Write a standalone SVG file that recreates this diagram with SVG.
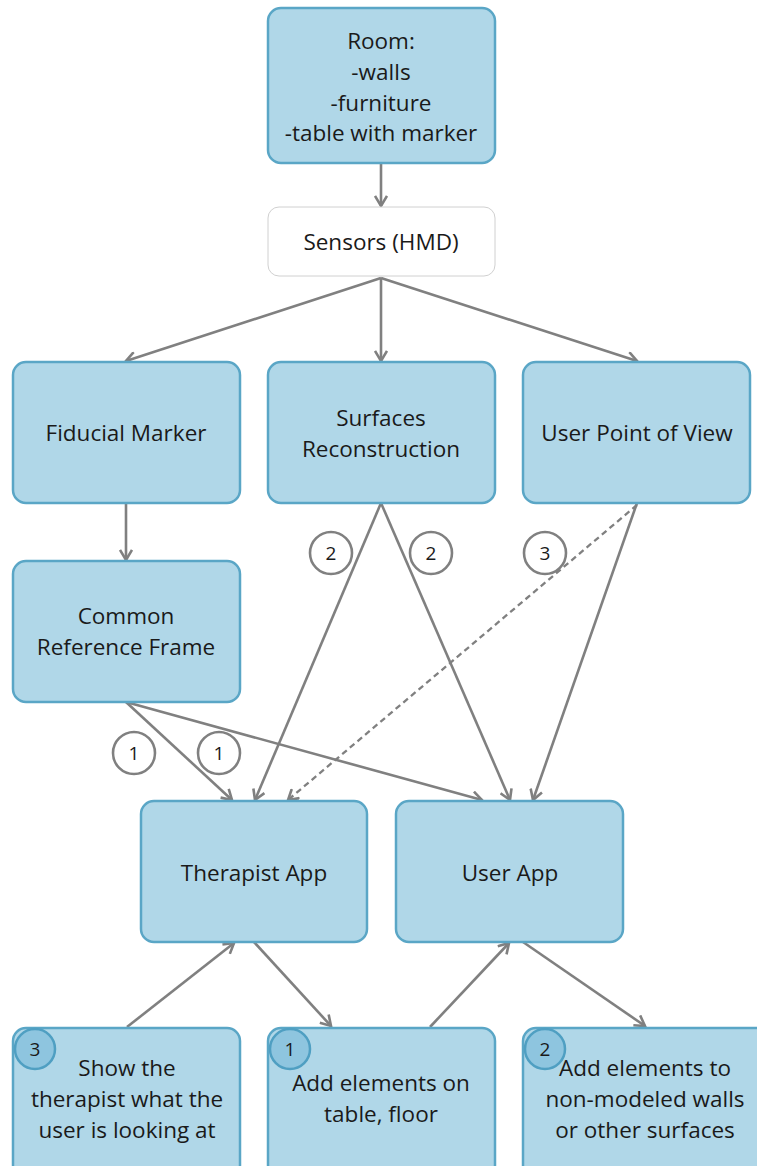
<svg xmlns="http://www.w3.org/2000/svg" width="757" height="1166" viewBox="0 0 757 1166">
<defs>
<marker id="arr" markerWidth="14" markerHeight="14" refX="11" refY="7" orient="auto" markerUnits="userSpaceOnUse">
<path d="M1,1 L11,7 L1,13" fill="none" stroke="#808080" stroke-width="2.6"/>
</marker>
<style>
.box{fill:#b0d7e8;stroke:#5aa6c6;stroke-width:2.5}
.wbox{fill:#ffffff;stroke:#d0d0d0;stroke-width:1}
.t{font-family:"Open Sans","Noto Sans","DejaVu Sans",sans-serif;font-size:22.5px;fill:#1a1a1a;text-anchor:middle}
.n{font-family:"Open Sans","Noto Sans","DejaVu Sans",sans-serif;font-size:19px;fill:#1a1a1a;text-anchor:middle}
.c{fill:none;stroke:#808080;stroke-width:2.6;marker-end:url(#arr)}
.d{stroke-dasharray:6,4;stroke-width:2.3}
.lab{fill:#ffffff;stroke:#808080;stroke-width:2.6}
.badge{fill:#8ec5df;stroke:#4f9fc2;stroke-width:2.5}
</style>
</defs>
<g id="connectors">
<path class="c" d="M381,163 L381,206"/>
<path class="c" d="M381,278 L126,361"/>
<path class="c" d="M381,278 L381,361"/>
<path class="c" d="M381,278 L637,361"/>
<path class="c" d="M126,503 L126,560"/>
<path class="c" d="M126,702 L232,800"/>
<path class="c" d="M126,702 L482,800"/>
<path class="c" d="M381,503 L255,800"/>
<path class="c" d="M381,503 L510,800"/>
<path class="c d" d="M637,505 L288,800"/>
<path class="c" d="M637,503 L533,800"/>
<path class="c" d="M127,1027 L234,943"/>
<path class="c" d="M254,942 L331,1026"/>
<path class="c" d="M430,1027 L509,943"/>
<path class="c" d="M523,942 L645,1026"/>
</g>
<g id="labels">
<circle class="lab" cx="331" cy="553" r="21"/><text class="n" x="331" y="560">2</text>
<circle class="lab" cx="431" cy="553" r="21"/><text class="n" x="431" y="560">2</text>
<circle class="lab" cx="545" cy="553" r="21" style="fill:none"/><text class="n" x="545" y="560">3</text>
<circle class="lab" cx="134" cy="753" r="21"/><text class="n" x="134" y="760">1</text>
<circle class="lab" cx="219" cy="753" r="21" style="fill:none"/><text class="n" x="219" y="760">1</text>
</g>
<g id="room">
<rect class="box" x="268" y="8" width="227" height="155" rx="13"/>
<text class="t" x="381" y="49">Room:</text>
<text class="t" x="381" y="80">-walls</text>
<text class="t" x="381" y="111">-furniture</text>
<text class="t" x="381" y="141">-table with marker</text>
</g>
<g id="sensors">
<rect class="wbox" x="268" y="207" width="227" height="69" rx="11"/>
<text class="t" x="381" y="250">Sensors (HMD)</text>
</g>
<g id="fiducial">
<rect class="box" x="13" y="362" width="227" height="141" rx="13"/>
<text class="t" x="126" y="441">Fiducial Marker</text>
</g>
<g id="surfaces">
<rect class="box" x="268" y="362" width="227" height="141" rx="13"/>
<text class="t" x="381" y="426">Surfaces</text>
<text class="t" x="381" y="457">Reconstruction</text>
</g>
<g id="upv">
<rect class="box" x="523" y="362" width="227" height="141" rx="13"/>
<text class="t" x="637" y="441">User Point of View</text>
</g>
<g id="crf">
<rect class="box" x="13" y="561" width="227" height="141" rx="13"/>
<text class="t" x="126" y="624">Common</text>
<text class="t" x="126" y="655">Reference Frame</text>
</g>
<g id="therapist">
<rect class="box" x="141" y="801" width="226" height="141" rx="13"/>
<text class="t" x="254" y="881">Therapist App</text>
</g>
<g id="userapp">
<rect class="box" x="396" y="801" width="227" height="141" rx="13"/>
<text class="t" x="510" y="881">User App</text>
</g>
<g id="show">
<rect class="box" x="13" y="1028" width="227" height="150" rx="13"/>
<circle class="badge" cx="35" cy="1049" r="20"/>
<text class="n" x="35" y="1056">3</text>
<text class="t" x="127" y="1076">Show the</text>
<text class="t" x="127" y="1107">therapist what the</text>
<text class="t" x="127" y="1138">user is looking at</text>
</g>
<g id="addtable">
<rect class="box" x="268" y="1028" width="227" height="150" rx="13"/>
<circle class="badge" cx="290" cy="1049" r="20"/>
<text class="n" x="290" y="1056">1</text>
<text class="t" x="381" y="1091">Add elements on</text>
<text class="t" x="381" y="1122">table, floor</text>
</g>
<g id="addwalls">
<rect class="box" x="523" y="1028" width="250" height="150" rx="13"/>
<circle class="badge" cx="545" cy="1049" r="20"/>
<text class="n" x="545" y="1056">2</text>
<text class="t" x="645" y="1076">Add elements to</text>
<text class="t" x="645" y="1107">non-modeled walls</text>
<text class="t" x="645" y="1138">or other surfaces</text>
</g>
</svg>
